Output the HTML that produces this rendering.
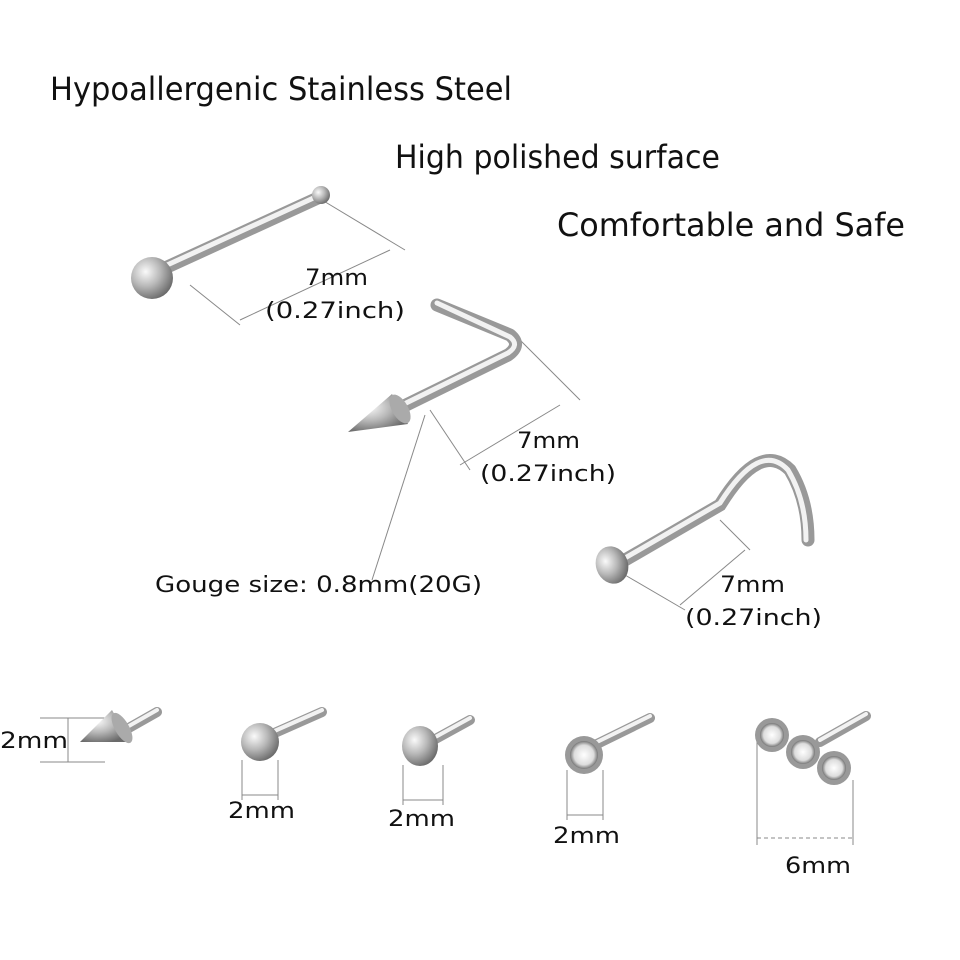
<!DOCTYPE html>
<html><head><meta charset="utf-8"><style>
html,body{margin:0;padding:0;background:#fff;width:960px;height:960px;overflow:hidden}
svg text{font-family:"DejaVu Sans","Liberation Sans",sans-serif;fill:#111}
</style></head><body>
<svg width="960" height="960" viewBox="0 0 960 960" xmlns="http://www.w3.org/2000/svg">
<defs>
<radialGradient id="ball" cx="35%" cy="35%" r="70%"><stop offset="0" stop-color="#fafafa"/><stop offset="0.5" stop-color="#b8b8b8"/><stop offset="1" stop-color="#6a6a6a"/></radialGradient>
<radialGradient id="gem" cx="50%" cy="50%" r="50%"><stop offset="0" stop-color="#fff"/><stop offset="0.7" stop-color="#ddd"/><stop offset="1" stop-color="#777"/></radialGradient>
</defs>
<g font-size="32">
<text x="50" y="100" textLength="462" lengthAdjust="spacingAndGlyphs">Hypoallergenic Stainless Steel</text>
<text x="395" y="168" textLength="325" lengthAdjust="spacingAndGlyphs">High polished surface</text>
<text x="557" y="236" textLength="348" lengthAdjust="spacingAndGlyphs">Comfortable and Safe</text>
</g>
<g stroke="#888" stroke-width="1" fill="none">
<line x1="322" y1="200" x2="405" y2="250"/><line x1="190" y1="285" x2="240" y2="325"/>
<line x1="240" y1="320" x2="390" y2="250"/>
<line x1="515" y1="335" x2="580" y2="400"/><line x1="430" y1="410" x2="470" y2="470"/>
<line x1="460" y1="465" x2="560" y2="405"/>
<line x1="425" y1="415" x2="372" y2="580"/>
<line x1="720" y1="520" x2="750" y2="550"/><line x1="625" y1="575" x2="685" y2="610"/>
<line x1="680" y1="605" x2="745" y2="550"/>
<line x1="40" y1="718" x2="105" y2="718"/><line x1="40" y1="762" x2="105" y2="762"/><line x1="68" y1="718" x2="68" y2="762"/>
<line x1="242" y1="760" x2="242" y2="800"/><line x1="278" y1="760" x2="278" y2="800"/><line x1="242" y1="795" x2="278" y2="795"/>
<line x1="403" y1="765" x2="403" y2="805"/><line x1="443" y1="765" x2="443" y2="805"/><line x1="403" y1="800" x2="443" y2="800"/>
<line x1="567" y1="770" x2="567" y2="820"/><line x1="603" y1="770" x2="603" y2="820"/><line x1="567" y1="815" x2="603" y2="815"/>
<line x1="757" y1="735" x2="757" y2="845"/><line x1="853" y1="780" x2="853" y2="845"/><line x1="757" y1="838" x2="853" y2="838" stroke-dasharray="4 3"/>
</g>
<line x1="165" y1="268" x2="320" y2="197" stroke="#999" stroke-width="13" stroke-linecap="round"/>
<line x1="165" y1="266" x2="320" y2="195" stroke="#f2f2f2" stroke-width="5" stroke-linecap="round"/>
<circle cx="321" cy="195" r="9" fill="url(#ball)"/>
<circle cx="152" cy="278" r="21" fill="url(#ball)"/>
<path d="M400 408 L508 355 Q522 345 510 335 L437 305" stroke="#999" stroke-width="13" fill="none" stroke-linecap="round" stroke-linejoin="round"/>
<path d="M400 406 L508 353 Q520 345 510 337 L437 303" stroke="#f2f2f2" stroke-width="5" fill="none" stroke-linecap="round"/>
<polygon points="348,432 392,394 408,424" fill="url(#ball)"/>
<ellipse cx="400" cy="409" rx="8" ry="16" transform="rotate(-30 400 409)" fill="#aaa"/>
<path d="M625 560 L720 505 Q760 440 790 470 Q808 500 808 540" stroke="#999" stroke-width="13" fill="none" stroke-linecap="round"/>
<path d="M625 558 L720 503 Q760 440 788 470 Q806 500 806 540" stroke="#f2f2f2" stroke-width="5" fill="none" stroke-linecap="round"/>
<ellipse cx="612" cy="565" rx="16" ry="19" fill="url(#ball)" transform="rotate(-20 612 565)"/>
<g font-size="22">
<text x="305" y="285" textLength="63" lengthAdjust="spacingAndGlyphs">7mm</text><text x="265" y="318" textLength="140" lengthAdjust="spacingAndGlyphs">(0.27inch)</text>
<text x="517" y="448" textLength="63" lengthAdjust="spacingAndGlyphs">7mm</text><text x="480" y="481" textLength="136" lengthAdjust="spacingAndGlyphs">(0.27inch)</text>
<text x="720" y="592" textLength="65" lengthAdjust="spacingAndGlyphs">7mm</text><text x="685" y="625" textLength="137" lengthAdjust="spacingAndGlyphs">(0.27inch)</text>
<text x="155" y="592" textLength="327" lengthAdjust="spacingAndGlyphs">Gouge size: 0.8mm(20G)</text>
<text x="0" y="748" textLength="68" lengthAdjust="spacingAndGlyphs">2mm</text>
<text x="228" y="818" textLength="67" lengthAdjust="spacingAndGlyphs">2mm</text>
<text x="388" y="826" textLength="67" lengthAdjust="spacingAndGlyphs">2mm</text>
<text x="553" y="843" textLength="67" lengthAdjust="spacingAndGlyphs">2mm</text>
<text x="785" y="873" textLength="66" lengthAdjust="spacingAndGlyphs">6mm</text>
</g>
<g stroke-linecap="round">
<line x1="120" y1="733" x2="157" y2="712" stroke="#999" stroke-width="10"/><line x1="120" y1="731" x2="157" y2="710" stroke="#f2f2f2" stroke-width="4"/>
<line x1="270" y1="735" x2="322" y2="712" stroke="#999" stroke-width="10"/><line x1="270" y1="733" x2="322" y2="710" stroke="#f2f2f2" stroke-width="4"/>
<line x1="430" y1="742" x2="470" y2="720" stroke="#999" stroke-width="10"/><line x1="430" y1="740" x2="470" y2="718" stroke="#f2f2f2" stroke-width="4"/>
<line x1="595" y1="745" x2="650" y2="718" stroke="#999" stroke-width="10"/><line x1="595" y1="743" x2="650" y2="716" stroke="#f2f2f2" stroke-width="4"/>
<line x1="820" y1="742" x2="866" y2="716" stroke="#999" stroke-width="10"/><line x1="820" y1="740" x2="866" y2="714" stroke="#f2f2f2" stroke-width="4"/>
</g>
<polygon points="80,742 112,710 130,742" fill="url(#ball)"/>
<ellipse cx="122" cy="728" rx="7" ry="17" transform="rotate(-30 122 728)" fill="#aaa"/>
<circle cx="260" cy="742" r="19" fill="url(#ball)"/>
<ellipse cx="420" cy="746" rx="18" ry="20" fill="url(#ball)"/>
<circle cx="584" cy="755" r="19" fill="#999"/><circle cx="584" cy="755" r="14" fill="url(#gem)"/>
<circle cx="772" cy="735" r="17" fill="#999"/><circle cx="772" cy="735" r="12" fill="url(#gem)"/>
<circle cx="803" cy="752" r="17" fill="#999"/><circle cx="803" cy="752" r="12" fill="url(#gem)"/>
<circle cx="834" cy="768" r="17" fill="#999"/><circle cx="834" cy="768" r="12" fill="url(#gem)"/>
</svg>
</body></html>
